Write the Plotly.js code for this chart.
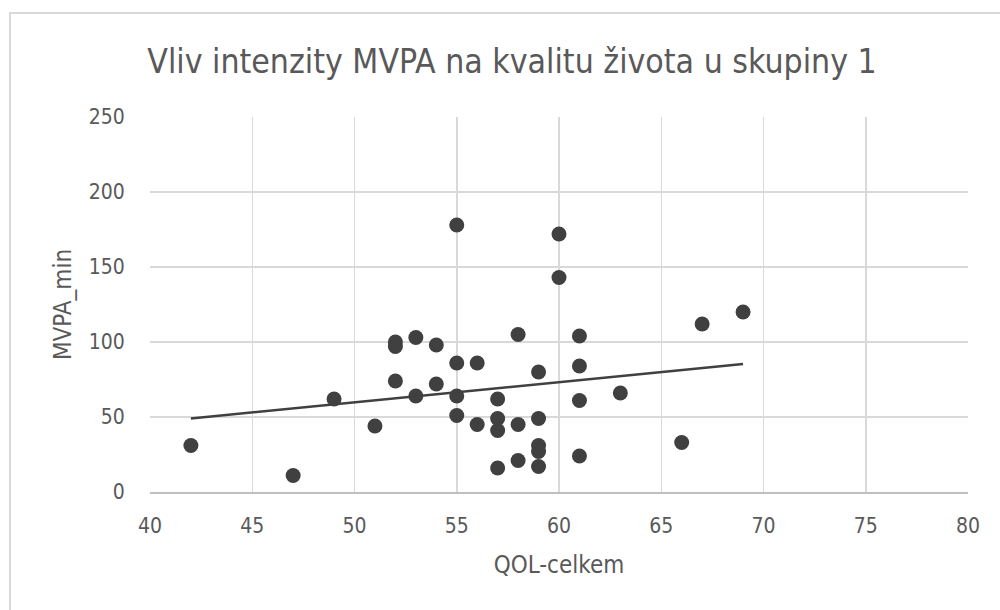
<!DOCTYPE html>
<html>
<head>
<meta charset="utf-8">
<script src="https://cdn.plot.ly/plotly-3.0.1.min.js"></script>
<style>
  html, body { margin: 0; padding: 0; background: #ffffff; }
  #wrap { position: relative; width: 1000px; height: 610px; overflow: hidden; }
  #frame { position: absolute; left: 9px; top: 12px; width: 1100px; height: 700px; border: 2px solid #d9d9d9; box-sizing: border-box; pointer-events: none; }
  #chart { position: absolute; left: 0; top: 0; width: 1000px; height: 610px; }
</style>
</head>
<body>
<div id="wrap">
  <div id="chart"></div>
  <div id="frame"></div>
</div>
<script>
const qolCelkem = [42, 47, 49, 51, 52, 52, 52, 53, 53, 54, 54, 55, 55, 55, 55, 56, 56, 57, 57, 57, 57, 58, 58, 58, 59, 59, 59, 59, 59, 60, 60, 61, 61, 61, 61, 63, 66, 67, 69];
const mvpaMin = [31, 11, 62, 44, 100, 97, 74, 103, 64, 98, 72, 178, 86, 64, 51, 86, 45, 62, 49, 41, 16, 105, 45, 21, 80, 49, 31, 27, 17, 172, 143, 104, 84, 61, 24, 66, 33, 112, 120];
// linear trendline as drawn in the reference (read at its two ends)
const trendX = [42, 69];
const trendY = [49, 85.3];
const xTicks = [40, 45, 50, 55, 60, 65, 70, 75, 80];
const yTicks = [0, 50, 100, 150, 200, 250];
const chartTitle = "Vliv intenzity MVPA na kvalitu života u skupiny 1";
const xTitle = "QOL-celkem";
const yTitle = "MVPA_min";

const font = "'DejaVu Sans Condensed', 'Liberation Sans Narrow', 'Roboto', sans-serif";
const textColor = "#595959";

const traces = [
  {
    x: trendX, y: trendY, type: "scatter", mode: "lines",
    line: { color: "#404040", width: 2.5 }, hoverinfo: "skip", showlegend: false
  },
  {
    x: qolCelkem, y: mvpaMin, type: "scatter", mode: "markers",
    marker: { color: "#404040", size: 15, line: { width: 0 } }, showlegend: false
  }
];

const layout = {
  width: 1000, height: 610,
  margin: { l: 149.5, r: 32, t: 117, b: 117.5 },
  paper_bgcolor: "rgba(0,0,0,0)", plot_bgcolor: "#ffffff",
  font: { family: font, color: textColor },
  title: { text: chartTitle, font: { family: font, size: 33.5, color: textColor }, x: 0.512, xanchor: "center", y: 0.9, yanchor: "middle" },
  xaxis: {
    range: [40, 80], tickvals: xTicks, ticktext: xTicks.map(String),
    showgrid: true, gridcolor: "#d9d9d9", gridwidth: 1.5,
    zeroline: false, showline: true, linecolor: "#bfbfbf", linewidth: 1.5,
    ticks: "outside", ticklen: 14, tickcolor: "rgba(0,0,0,0)",
    tickfont: { size: 21, color: textColor, family: font },
    title: { text: xTitle, font: { size: 24, color: textColor, family: font }, standoff: 19 },
    fixedrange: true
  },
  yaxis: {
    range: [0, 250], tickvals: yTicks, ticktext: yTicks.map(String),
    showgrid: true, gridcolor: "#d9d9d9", gridwidth: 1.5,
    zeroline: false, showline: false,
    ticks: "outside", ticklen: 20, tickcolor: "rgba(0,0,0,0)",
    tickfont: { size: 21, color: textColor, family: font },
    title: { text: yTitle, font: { size: 24, color: textColor, family: font }, standoff: 10 },
    fixedrange: true
  }
};

Plotly.newPlot("chart", traces, layout, { displayModeBar: false, staticPlot: true });
</script>
</body>
</html>
